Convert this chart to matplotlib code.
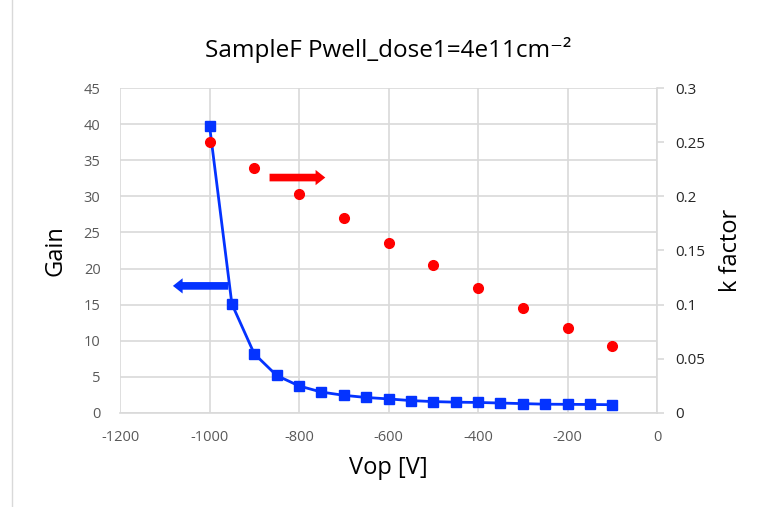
import matplotlib as mpl
mpl.use('Agg')
import matplotlib.pyplot as plt
from matplotlib.patches import Rectangle

plt.rcParams['font.family'] = ['Open Sans', 'DejaVu Sans']
plt.rcParams['axes.unicode_minus'] = False

# gain vs operating voltage
vop_gain = [-1000, -950, -900, -850, -800, -750, -700, -650, -600, -550,
            -500, -450, -400, -350, -300, -250, -200, -150, -100]
gain = [39.8, 15.1, 8.2, 5.2, 3.75, 2.9, 2.45, 2.15, 1.95, 1.72,
        1.58, 1.5, 1.46, 1.38, 1.3, 1.22, 1.2, 1.18, 1.15]

# k factor vs operating voltage
vop_k = [-1000, -900, -800, -700, -600, -500, -400, -300, -200, -100]
kfac = [0.25, 0.2265, 0.2025, 0.18, 0.1566, 0.1366, 0.1157, 0.0966, 0.0781, 0.0622]

fig = plt.figure(figsize=(7.72, 5.07), dpi=100)
ax1 = fig.add_axes([120 / 772, 1 - 413 / 507, 537 / 772, 325 / 507])
ax2 = ax1.twinx()

grey = '#d9d9d9'
tick_grey = '#595959'

ax1.plot(vop_gain, gain, color='#0433ff', lw=2, marker='s', ms=7, zorder=3)
ax2.plot(vop_k, kfac, ls='none', color='#ff0000', marker='o', ms=7, zorder=3)

ax1.set_xlim(-1200, 0)
ax1.set_ylim(0, 45)
ax2.set_ylim(0, 0.3)
ax1.set_xticks(range(-1200, 1, 200))
ax1.set_yticks(range(0, 46, 5))
ax2.set_yticks([0, 0.05, 0.1, 0.15, 0.2, 0.25, 0.3])
ax2.set_yticklabels(['0', '0.05', '0.1', '0.15', '0.2', '0.25', '0.3'])

ax1.grid(color=grey, lw=1.2)
ax1.set_axisbelow(True)
for s in ['top', 'left', 'right']:
    ax1.spines[s].set_visible(False)
for s in ['top', 'left', 'bottom']:
    ax2.spines[s].set_visible(False)
ax1.spines['bottom'].set_color(grey)
ax1.spines['bottom'].set_linewidth(1.2)
ax2.spines['right'].set_color(grey)
ax2.spines['right'].set_linewidth(1.2)

ax1.tick_params(axis='x', length=0, pad=12, labelsize=10.5, labelcolor=tick_grey)
ax1.tick_params(axis='y', length=0, pad=14, labelsize=10.5, labelcolor=tick_grey)
ax2.tick_params(axis='y', length=5, color=grey, width=1.2, pad=8, labelsize=11, labelcolor='#262626')

ax1.set_xlabel('Vop [V]', fontsize=17, labelpad=8)
ax1.set_ylabel('Gain', fontsize=17, labelpad=12)
ax2.set_ylabel('k factor', fontsize=17, labelpad=10)
ax1.set_title('SampleF Pwell_dose1=4e11cm\u207b\u00b2', fontsize=17.5, pad=22)

# arrows showing which axis each series uses
ax1.annotate('', xy=(-1088, 17.6), xytext=(-952, 17.6),
             arrowprops=dict(arrowstyle='simple,head_width=1.1,head_length=0.7,tail_width=0.55',
                             color='#0433ff', lw=0))
ax1.annotate('', xy=(-735, 32.6), xytext=(-872, 32.6),
             arrowprops=dict(arrowstyle='simple,head_width=1.1,head_length=0.7,tail_width=0.55',
                             color='#ff0000', lw=0))

# chart area border
fig.add_artist(Rectangle((12 / 772, -0.01), 1.2, 1.2, transform=fig.transFigure,
                         fill=False, ec='#d9d9d9', lw=1))

fig.savefig('out.png', dpi=100)
